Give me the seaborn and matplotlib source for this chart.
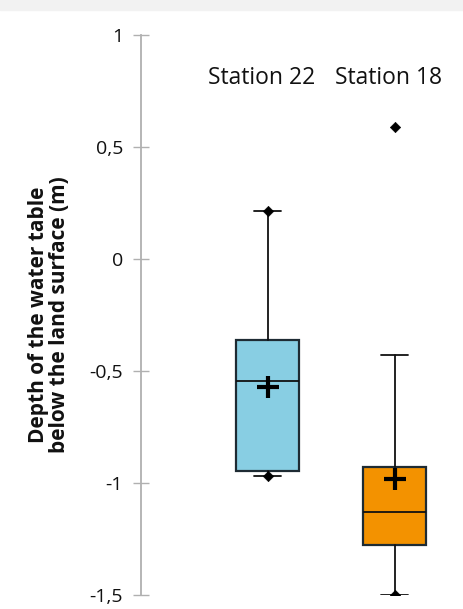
import seaborn as sns
import pandas as pd
import matplotlib.pyplot as plt
from matplotlib.patches import Rectangle

stations = ["Station 22", "Station 18"]
q_min = [-0.97, -1.50]
q1 = [-0.945, -1.277]
median = [-0.545, -1.13]
q3 = [-0.362, -0.93]
whisk_hi = [0.214, -0.43]
means = [-0.57, -0.98]
# diamond markers sit on the extremes of each series
extremes = [[-0.97, 0.214], [-1.50, 0.59]]
colors = ["#88cee3", "#f39200"]
yticks = [1, 0.5, 0, -0.5, -1, -1.5]

sns.set_theme(style="white")
plt.rcParams["font.family"] = ["Open Sans", "DejaVu Sans"]

fig = plt.figure(figsize=(4.63, 6.09), dpi=100)
ax = fig.add_axes([141 / 463, 14 / 609, 1 - 141 / 463, (595 - 35) / 609])
fig.patches.append(Rectangle((0, 1 - 10 / 609), 1, 10 / 609,
                             transform=fig.transFigure, color="#f2f2f2", zorder=0))

stats = []
for i, name in enumerate(stations):
    stats.append(dict(label=name, whislo=q_min[i], q1=q1[i], med=median[i],
                      q3=q3[i], whishi=whisk_hi[i], fliers=[]))
bp = ax.bxp(stats, positions=[0, 1], widths=0.5, showfliers=False, patch_artist=True,
            manage_ticks=False, capwidths=0.21,
            boxprops=dict(linewidth=1.6, edgecolor="#1e2b33"),
            medianprops=dict(color="#111111", linewidth=1.3),
            whiskerprops=dict(color="#111111", linewidth=1.3),
            capprops=dict(color="#111111", linewidth=1.3))
for patch, c in zip(bp["boxes"], colors):
    patch.set_facecolor(c)

pts = pd.DataFrame({"x": [i for i, e in enumerate(extremes) for _ in e],
                    "y": [v for e in extremes for v in e]})
sns.scatterplot(data=pts, x="x", y="y", marker="D", s=28, color="black",
                edgecolor="black", ax=ax, zorder=5)
mn = pd.DataFrame({"x": [0, 1], "y": means})
sns.scatterplot(data=mn, x="x", y="y", marker="+", s=230, color="black",
                linewidth=3.0, ax=ax, zorder=6)

for i, name in enumerate(stations):
    ax.text(i - 0.05, 0.81, name, ha="center", va="center", fontsize=16.5, color="#111111")

ax.set_xlim(-1, 1.54)
ax.set_ylim(-1.5, 1)
ax.set_xticks([])
ax.set_yticks(yticks)
ax.set_yticklabels([f"{t:g}".replace(".", ",") for t in yticks], fontsize=14, color="#111111")
ax.tick_params(axis="y", direction="inout", length=12, width=1, color="#b0b0b0",
               pad=7, left=True)
for s in ["top", "right", "bottom"]:
    ax.spines[s].set_visible(False)
ax.spines["left"].set_color("#b0b0b0")
ax.spines["left"].set_linewidth(1.3)
ax.set_xlabel("")
ax.set_ylabel("Depth of the water table\nbelow the land surface (m)",
              fontsize=15, fontweight="bold", color="#111111", labelpad=14,
              linespacing=1.0)

fig.savefig("out.png", dpi=100)
